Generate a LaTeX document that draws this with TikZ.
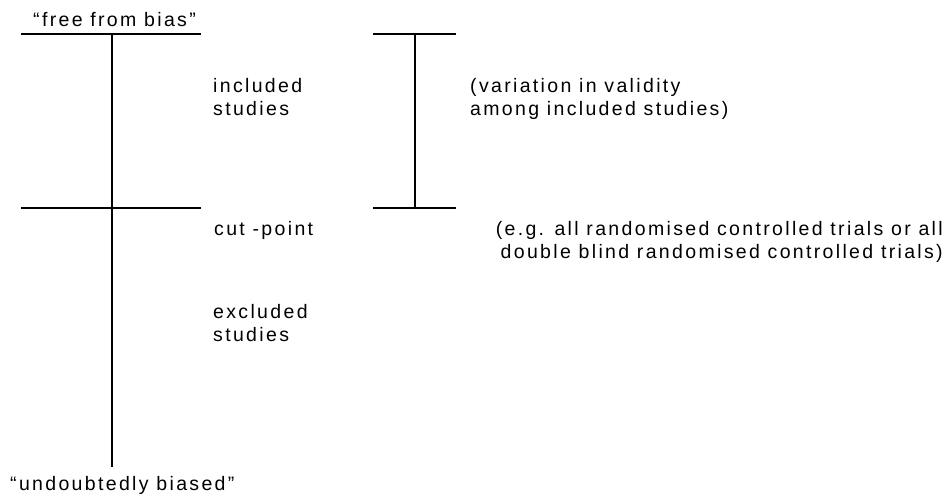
\documentclass[tikz,border=0pt]{standalone}
\usepackage{fontspec}
\setmainfont{Liberation Sans}[LetterSpace=12]
\begin{document}
\begin{tikzpicture}[x=1pt,y=-1pt]
\tikzstyle{bar}=[draw=black,line width=1.3pt]
\tikzstyle{lbl}=[inner sep=0pt,align=left,font=\fontsize{19.5}{23}\selectfont]
\useasboundingbox (0,0) rectangle (949,500);
% validity scale
\coordinate (topL) at (21,34);
\coordinate (topR) at (201,34);
\coordinate (top) at (112,34);
\coordinate (cutL) at (21,208);
\coordinate (cutR) at (201,208);
\coordinate (bot) at (112,467);
% range of included studies
\coordinate (rngTL) at (373,34);
\coordinate (rngTR) at (456,34);
\coordinate (rngT) at (415,34);
\coordinate (rngBL) at (373,208);
\coordinate (rngBR) at (456,208);
\coordinate (rngB) at (415,208);
\draw [bar] (topL) -- (topR);
\draw [bar] (cutL) -- (cutR);
\draw [bar] (top) -- (bot);
\draw [bar] (rngTL) -- (rngTR);
\draw [bar] (rngBL) -- (rngBR);
\draw [bar] (rngT) -- (rngB);
% labels (base = last line)
\node [lbl,anchor=base west] (free) at (33,27) {“free from bias”};
\node [lbl,anchor=base west] (incl) at (213,116) {included\\studies};
\node [lbl,anchor=base west] (var) at (470,116) {(variation in validity\\among included studies)};
\node [lbl,anchor=base west] (cut) at (214,235) {cut -point};
\node [lbl,anchor=base east,align=right] (eg) at (943,258) {(e.g. all randomised controlled trials or all\\double blind randomised controlled trials)};
\node [lbl,anchor=base west] (excl) at (213,341) {excluded\\studies};
\node [lbl,anchor=base west] (biased) at (10,490) {“undoubtedly biased”};
\end{tikzpicture}
\end{document}
